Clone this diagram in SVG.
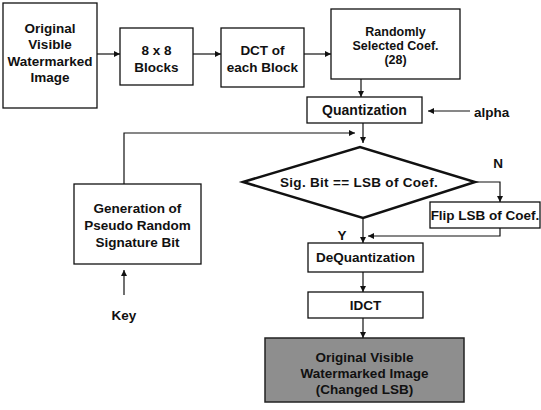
<svg xmlns="http://www.w3.org/2000/svg" width="541" height="410" viewBox="0 0 541 410">
<defs>
<marker id="ah" viewBox="0 0 10 10" refX="10" refY="5" markerWidth="6" markerHeight="6" markerUnits="userSpaceOnUse" orient="auto">
<path d="M0,0 L10,5 L0,10 z" fill="#111"/>
</marker>
<style>
.box{fill:#fff;stroke:#111;stroke-width:1.3}
.t{font-family:"Liberation Sans",Arial,sans-serif;font-size:13.5px;font-weight:bold;fill:#111;text-anchor:middle}
.s{font-size:12.5px}
.c{fill:none;stroke:#111;stroke-width:1.2}
.a{marker-end:url(#ah)}
</style>
</defs>
<rect width="541" height="410" fill="#fff"/>
<g id="n1"><rect class="box" x="3" y="3" width="94" height="105"/>
<text class="t" x="50" y="33">Original</text><text class="t" x="50" y="49">Visible</text><text class="t" x="50" y="66">Watermarked</text><text class="t" x="50" y="82">Image</text></g>
<g id="n2"><rect class="box" x="120" y="28" width="73" height="57"/>
<text class="t" x="156.5" y="55">8 x 8</text><text class="t" x="156.5" y="72">Blocks</text></g>
<g id="n3"><rect class="box" x="221" y="28" width="83" height="59"/>
<text class="t" x="262.5" y="55">DCT of</text><text class="t" x="262.5" y="72">each Block</text></g>
<g id="n4"><rect class="box" x="331" y="9" width="129" height="70"/>
<text class="t s" x="395.5" y="36">Randomly</text><text class="t s" x="395.5" y="50">Selected Coef.</text><text class="t s" x="395.5" y="64">(28)</text></g>
<g id="n5"><rect class="box" x="307" y="97" width="115" height="26"/>
<text class="t" x="364.5" y="115" style="font-size:14px">Quantization</text></g>
<g id="n6"><text class="t" x="474" y="117" style="text-anchor:start">alpha</text></g>
<g id="n7"><polygon points="243,182 360,147 475,182 363,218" fill="#fff" stroke="#111" stroke-width="2.5" stroke-linejoin="miter"/>
<text class="t" x="359" y="187" style="letter-spacing:0.3px">Sig. Bit == LSB of Coef.</text></g>
<g id="n8"><rect class="box" x="430" y="202" width="110" height="26"/>
<text class="t" x="485" y="220">Flip LSB of Coef.</text></g>
<g id="n9"><rect class="box" x="74" y="184" width="127" height="80"/>
<text class="t" x="137.5" y="213">Generation of</text><text class="t" x="137.5" y="230">Pseudo Random</text><text class="t" x="137.5" y="247">Signature Bit</text></g>
<g id="n10"><text class="t" x="124" y="320">Key</text></g>
<g id="n11"><rect class="box" x="308" y="243" width="115" height="29"/>
<text class="t" x="365.5" y="262">DeQuantization</text></g>
<g id="n12"><rect class="box" x="308" y="292" width="115" height="26"/>
<text class="t" x="365.5" y="310">IDCT</text></g>
<g id="n13"><rect x="265" y="338" width="199" height="64" fill="#8e8e8e" stroke="#222" stroke-width="1.5"/>
<text class="t" x="364.5" y="362">Original Visible</text><text class="t" x="364.5" y="378">Watermarked Image</text><text class="t" x="364.5" y="394">(Changed LSB)</text></g>
<g id="labels"><text class="t" x="498" y="168">N</text><text class="t" x="342" y="240">Y</text></g>
<g id="connectors">
<line class="c a" x1="97" y1="54" x2="120" y2="54"/>
<line class="c a" x1="193" y1="54" x2="221" y2="54"/>
<line class="c a" x1="304" y1="54" x2="331" y2="54"/>
<line class="c a" x1="361" y1="79" x2="361" y2="97"/>
<line class="c a" x1="470" y1="111" x2="428" y2="111"/>
<line class="c a" x1="363" y1="123" x2="363" y2="143"/>
<polyline class="c a" points="124,184 124,133 355,133"/>
<polyline class="c a" points="475,182 500,182 500,202"/>
<polyline class="c a" points="500,228 500,236 368,236"/>
<line class="c a" x1="363" y1="218" x2="363" y2="243"/>
<line class="c a" x1="363" y1="272" x2="363" y2="292"/>
<line class="c a" x1="363" y1="318" x2="363" y2="338"/>
<line class="c a" x1="124" y1="295" x2="124" y2="270"/>
</g>
</svg>
